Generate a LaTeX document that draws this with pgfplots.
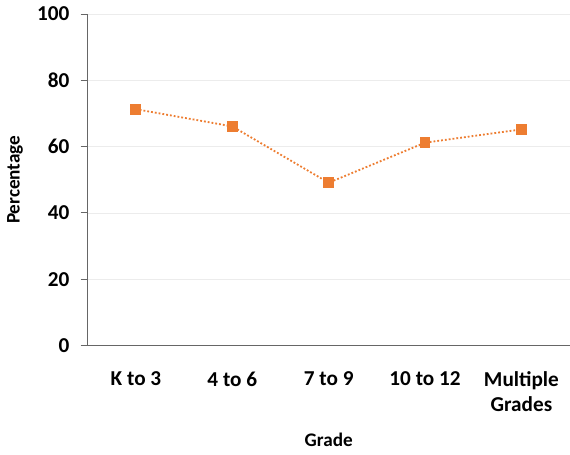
\documentclass[border=0pt]{standalone}
\usepackage{pgfplots}
\pgfplotsset{compat=1.18}
\usepackage{fontspec}
\setmainfont{Carlito}
\definecolor{exorange}{HTML}{ED7D31}
\begin{document}
\fontsize{21}{24}\selectfont
\begin{tikzpicture}
  \begin{axis}[
    scale only axis,
    width=477pt, height=328pt,
    xmin=-0.5, xmax=4.5,
    ymin=0, ymax=100,
    ytick={0,20,...,100},
    xtick={0,1,2,3,4},
    xticklabels={K to 3, 4 to 6, 7 to 9, 10 to 12, {Multiple\\Grades}},
    xticklabel style={align=center, font=\bfseries, text depth=0pt, yshift=-12pt},
    yticklabel style={font=\bfseries, xshift=-4pt},
    /pgf/number format/assume math mode=true,
    axis x line*=bottom,
    axis y line*=left,
    axis line style={gray!80!black, line width=0.8pt},
    x tick style={draw=none},
    y tick style={gray!80!black, line width=0.8pt},
    tick align=outside,
    major tick length=7pt,
    ymajorgrids,
    grid style={gray!15, line width=0.6pt},
    xlabel={Grade}, ylabel={Percentage},
    xlabel style={font=\fontsize{19}{22}\selectfont\bfseries, yshift=-8pt},
    ylabel style={font=\fontsize{19}{22}\selectfont\bfseries},
    ]
    \addplot[exorange, line width=1.8pt, dash pattern=on 1.8pt off 2pt, mark=square*,
      mark size=4.5pt, mark options={solid, fill=exorange}]
      coordinates {(0,71.3) (1,66.1) (2,49.1) (3,61.2) (4,65.2)};
  \end{axis}
\end{tikzpicture}
\end{document}
